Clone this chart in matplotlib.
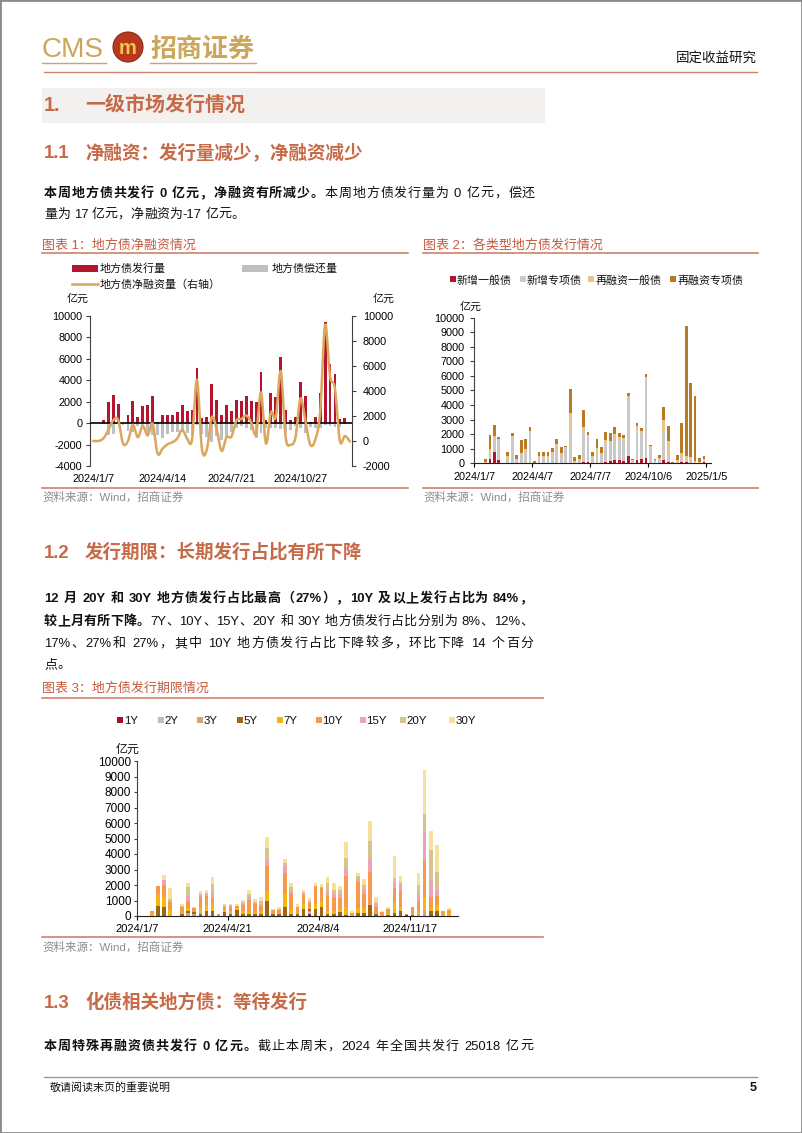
import matplotlib
matplotlib.use("Agg")
import matplotlib.pyplot as plt
import numpy as np
import pandas as pd
from matplotlib.font_manager import FontProperties
from matplotlib.lines import Line2D
from matplotlib.patches import Ellipse, Rectangle

W, H = 802, 1133
MIX = ["Liberation Sans", "Noto Sans CJK SC", "DejaVu Sans"]
plt.rcParams["font.family"] = MIX
plt.rcParams["axes.unicode_minus"] = False

INK = "#111111"
HEAD = "#C66A47"
TITLE = "#C55A3E"
RULE = "#D0826A"
GOLD = "#CBA75C"
SRC = "#8C8C8C"

# ---- data (weekly, 2024/1/7 .. 2025/1/5) ----
weeks = pd.date_range("2024-01-07", periods=53, freq="7D")
week_labels = [f"{d.year}/{d.month}/{d.day}" for d in weeks]

# 图表2 各类型地方债发行（亿元）
new_general = [0, 0, 0, 300, 800, 250, 0, 0, 50, 0,
               0, 0, 50, 0, 0, 0, 0, 50, 0, 0,
               50, 50, 0, 0, 100, 100, 0, 50, 50, 100,
               150, 200, 200, 150, 500, 50, 250, 300, 350, 50,
               0, 50, 200, 100, 0, 50, 100, 100, 50, 0,
               0, 100, 0]
new_special = [0, 0, 50, 300, 800, 1400, 0, 300, 1700, 200,
               600, 800, 2000, 0, 300, 400, 400, 650, 1000, 600,
               1000, 2300, 50, 150, 2200, 1800, 300, 500, 500, 1200,
               1300, 1600, 1500, 1500, 3900, 100, 2000, 1800, 5500, 1100,
               200, 150, 2000, 500, 50, 100, 300, 200, 100, 50,
               50, 100, 0]
refi_general = [0, 0, 50, 400, 300, 50, 0, 200, 100, 100,
                100, 200, 150, 50, 200, 100, 100, 100, 300, 100,
                50, 1100, 100, 150, 200, 50, 200, 500, 150, 300,
                100, 200, 100, 100, 200, 50, 300, 100, 100, 50,
                50, 150, 800, 900, 0, 100, 300, 200, 250, 100,
                50, 100, 0]
refi_special = [0, 0, 200, 950, 750, 100, 0, 280, 250, 300,
                900, 650, 300, 100, 280, 280, 250, 250, 400, 400,
                100, 1650, 300, 250, 1150, 200, 300, 650, 450, 550,
                500, 500, 300, 200, 200, 100, 250, 200, 200, 50,
                50, 200, 850, 1050, 50, 300, 2100, 8950, 5100, 4450,
                250, 200, 0]

# 图表1 偿还量（亿元）
redemption = [0, 0, 100, 1100, 1000, 100, 200, 780, 800, 300,
              400, 1200, 1100, 1150, 1400, 1050, 850, 850, 800, 900,
              1100, 200, 1050, 1250, 1750, 1200, 1600, 1400, 800, 500,
              300, 450, 600, 1400, 900, 500, 500, 500, 550, 950,
              600, 250, 450, 950, 400, 450, 500, 150, 300, 400,
              350, 100, 17]

# 图表3 发行期限（亿元）
y1 = [0, 0, 0, 0, 0, 0, 0, 0, 0, 0,
      0, 0, 0, 0, 0, 0, 0, 0, 0, 0,
      0, 0, 0, 0, 0, 0, 0, 0, 150, 0,
      0, 0, 0, 0, 0, 0, 0, 0, 0, 0,
      0, 0, 0, 0, 50, 0, 0, 0, 0, 0,
      0, 0, 0]
y2 = [0, 0, 0, 0, 0, 0, 0, 0, 0, 0,
      0, 0, 0, 0, 0, 0, 0, 0, 0, 0,
      0, 0, 0, 0, 0, 0, 0, 0, 100, 0,
      0, 0, 0, 0, 0, 0, 0, 0, 0, 0,
      0, 0, 0, 0, 0, 0, 0, 0, 0, 0,
      0, 0, 0]
y3 = [0, 0, 0, 0, 0, 0, 0, 0, 200, 150,
      0, 0, 0, 0, 0, 0, 0, 0, 0, 0,
      0, 0, 0, 0, 0, 0, 0, 0, 100, 0,
      0, 0, 0, 0, 0, 0, 0, 0, 0, 0,
      0, 0, 0, 0, 0, 0, 100, 400, 0, 0,
      0, 0, 0]
y5 = [0, 0, 0, 650, 600, 0, 0, 100, 100, 100,
      100, 350, 350, 0, 250, 100, 400, 100, 150, 100,
      100, 1000, 100, 100, 600, 100, 100, 450, 100, 450,
      600, 100, 100, 250, 50, 0, 200, 200, 700, 100,
      0, 50, 200, 300, 0, 50, 0, 0, 350, 300,
      0, 0, 0]
y7 = [0, 0, 200, 700, 600, 400, 0, 100, 200, 0,
      400, 350, 400, 0, 150, 200, 100, 200, 200, 100,
      250, 600, 100, 0, 800, 300, 100, 300, 0, 300,
      300, 200, 200, 200, 500, 0, 300, 300, 0, 0,
      0, 100, 700, 300, 0, 100, 200, 800, 250, 400,
      100, 100, 0]
y10 = [0, 0, 100, 600, 800, 500, 0, 350, 500, 250,
       700, 600, 400, 100, 200, 300, 150, 400, 700, 600,
       300, 1600, 200, 300, 1400, 1000, 400, 600, 400, 1200,
       900, 1000, 900, 700, 2050, 200, 1700, 900, 2150, 500,
       250, 300, 900, 1000, 50, 400, 600, 2400, 650, 600,
       200, 300, 0]
y15 = [0, 0, 0, 0, 350, 100, 0, 0, 300, 0,
       200, 100, 400, 0, 0, 80, 0, 100, 200, 100,
       150, 400, 0, 0, 400, 200, 0, 100, 100, 0,
       100, 300, 200, 300, 450, 0, 200, 300, 800, 200,
       0, 0, 400, 400, 0, 0, 600, 1850, 1000, 400,
       0, 0, 0]
y20 = [0, 0, 0, 0, 0, 100, 0, 100, 600, 0,
       0, 100, 500, 0, 100, 0, 0, 100, 150, 0,
       200, 800, 0, 50, 200, 250, 0, 100, 0, 0,
       0, 500, 300, 200, 700, 0, 200, 300, 1200, 100,
       0, 0, 250, 200, 0, 0, 500, 1150, 2000, 1150,
       0, 0, 0]
y30 = [0, 0, 0, 0, 300, 700, 0, 130, 200, 100,
       200, 150, 450, 50, 80, 100, 100, 150, 300, 200,
       200, 700, 50, 100, 250, 300, 200, 150, 200, 200,
       150, 400, 400, 300, 1050, 100, 200, 400, 1300, 350,
       50, 100, 1400, 350, 0, 0, 800, 2850, 1250, 1750,
       50, 100, 0]

type_names = ["新增一般债", "新增专项债", "再融资一般债", "再融资专项债"]
type_colors = ["#B5142E", "#C9C9C9", "#E9C487", "#B97A25"]
term_names = ["1Y", "2Y", "3Y", "5Y", "7Y", "10Y", "15Y", "20Y", "30Y"]
term_colors = ["#A5122A", "#BEBEBE", "#D2A56E", "#A0650F", "#F8B50C",
               "#F7994A", "#EDA3B6", "#D7C38F", "#F6E09A"]

issuance = np.array(new_general) + np.array(new_special) + np.array(refi_general) + np.array(refi_special)
net = issuance - np.array(redemption)

# ---- helpers ----
fig = plt.figure(figsize=(W / 100, H / 100), dpi=100)
renderer = fig.canvas.get_renderer()


def fx(x):
    return x / W


def fy(y):
    return 1 - y / H


def add_ax(l, t, r, b):
    return fig.add_axes([l / W, 1 - b / H, (r - l) / W, (b - t) / H])


def txt(x, y, s, px, color=INK, weight="normal", ha="left", va="baseline"):
    fig.text(fx(x), fy(y), s, fontsize=px * 0.72, color=color, weight=weight, ha=ha, va=va)


def hline(x0, x1, y, color, lw=1.0):
    fig.add_artist(Line2D([fx(x0), fx(x1)], [fy(y), fy(y)], color=color, lw=lw))


def text_w(s, px, bold):
    fp = FontProperties(family=MIX, size=px * 0.72, weight="bold" if bold else "normal")
    return renderer.get_text_width_height_descent(s, fp, ismath=False)[0]


def rich_line(x0, y, parts, px, x1=None, color=INK):
    tokens = []
    for s, bold in parts:
        buf = ""
        for ch in s:
            if ord(ch) < 128 and ch != " ":
                buf += ch
                continue
            if buf:
                tokens.append((buf, bold))
                buf = ""
            tokens.append((ch, bold))
        if buf:
            tokens.append((buf, bold))
    widths = [px * 0.28 if t == " " else text_w(t, px, b) for t, b in tokens]
    extra = 0.0
    if x1 is not None and len(tokens) > 1:
        extra = (x1 - x0 - sum(widths)) / (len(tokens) - 1)
    x = x0
    for (t, b), w in zip(tokens, widths):
        if t != " ":
            txt(x, y, t, px, color=color, weight="bold" if b else "normal")
        x += w + extra


def smooth(xv, yv, n=10):
    pts = np.column_stack([xv, yv]).astype(float)
    pts = np.vstack([pts[0], pts, pts[-1]])
    t = np.linspace(0, 1, n, endpoint=False)[:, None]
    out = []
    for i in range(1, len(pts) - 2):
        p0, p1, p2, p3 = pts[i - 1], pts[i], pts[i + 1], pts[i + 2]
        out.append(0.5 * (2 * p1 + (p2 - p0) * t + (2 * p0 - 5 * p1 + 4 * p2 - p3) * t ** 2
                          + (3 * p1 - p0 - 3 * p2 + p3) * t ** 3))
    out.append(pts[-2][None, :])
    c = np.vstack(out)
    return c[:, 0], c[:, 1]


def style_axis(ax, left=True, right=False, bottom=False):
    for side in ["top", "left", "right", "bottom"]:
        ax.spines[side].set_visible(False)
    if left:
        ax.spines["left"].set_visible(True)
        ax.spines["left"].set_color("#404040")
    if right:
        ax.spines["right"].set_visible(True)
        ax.spines["right"].set_color("#404040")
    if bottom:
        ax.spines["bottom"].set_visible(True)
        ax.spines["bottom"].set_color("#202020")
    ax.patch.set_alpha(0)


# ---- page frame & header ----
fig.add_artist(Rectangle((0, 0), 1, 1, transform=fig.transFigure, fill=False, edgecolor="#8a8a8a", lw=2))
txt(42, 57, "CMS", 28, color=GOLD)
fig.add_artist(Ellipse((fx(128), fy(47)), 30 / W, 30 / H, facecolor="#B8391C", edgecolor="#8E2A14", lw=0.8))
txt(128, 48, "m", 20, color="#F2C550", weight="bold", ha="center", va="center")
txt(150, 57, "招商证券", 26, color=GOLD, weight="bold")
hline(42, 106, 63, GOLD, 1.0)
hline(150, 256, 63, GOLD, 1.0)
txt(757, 62, "固定收益研究", 13.5, ha="right")
hline(44, 757, 72, RULE, 1.0)

# ---- section 1 ----
fig.add_artist(Rectangle((fx(42), fy(123)), 503 / W, 35 / H, transform=fig.transFigure,
                         facecolor="#F3F1F0", edgecolor="none"))
txt(44, 111, "1.", 20, color=HEAD, weight="bold")
txt(85, 111, "一级市场发行情况", 20, color=HEAD, weight="bold")
txt(44, 158, "1.1", 18.5, color=HEAD, weight="bold")
txt(85, 158, "净融资：发行量减少，净融资减少", 18.5, color=HEAD, weight="bold")

rich_line(44, 197, [("本周地方债共发行 0 亿元，净融资有所减少。", True),
                    ("本周地方债发行量为 0 亿元，偿还", False)], 13, x1=535)
rich_line(44, 218, [("量为 17 亿元，净融资为-17 亿元。", False)], 13)

# ---- chart titles row 1 ----
txt(42, 249, "图表 1：地方债净融资情况", 13, color=TITLE)
hline(42, 408, 253, RULE, 1.2)
txt(423, 249, "图表 2：各类型地方债发行情况", 13, color=TITLE)
hline(423, 758, 253, RULE, 1.2)

# ---- chart 1 ----
x = np.arange(53)
ax1 = add_ax(90, 316, 351.7, 466)
ax1.bar(x, issuance, width=0.58, color="#B5142E", zorder=2)
ax1.bar(x, -np.array(redemption), width=0.58, color="#BFBFBF", zorder=2)
ax1.axhline(0, color="black", lw=1.2, zorder=3)
ax1.set_xlim(-0.7, 52.4)
ax1.set_ylim(-4000, 10000)
ax1.set_yticks(range(-4000, 10001, 2000))
ax1.set_xticks([0, 14, 28, 42])
ax1.set_xticklabels([week_labels[i] for i in [0, 14, 28, 42]])
style_axis(ax1, left=True)
ax1.tick_params(axis="x", length=0, pad=6, labelsize=7.8)
ax1.tick_params(axis="y", length=3, width=0.8, pad=2.5, labelsize=7.8, color="#404040")
ax1r = ax1.twinx()
sx, sy = smooth(x, net)
ax1r.plot(sx, sy, color="#DBA75C", lw=1.8, zorder=4)
ax1r.set_ylim(-2000, 10000)
ax1r.set_yticks(range(-2000, 10001, 2000))
style_axis(ax1r, left=False, right=True)
ax1r.tick_params(axis="y", length=3, width=0.8, pad=5, labelsize=7.8, color="#404040")
txt(67, 302, "亿元", 11)
txt(373, 302, "亿元", 11)
fig.add_artist(Rectangle((fx(72), fy(272)), 26 / W, 7 / H, transform=fig.transFigure,
                         facecolor="#B5142E", edgecolor="none"))
txt(100, 272, "地方债发行量", 11)
fig.add_artist(Rectangle((fx(242), fy(272)), 26 / W, 7 / H, transform=fig.transFigure,
                         facecolor="#BFBFBF", edgecolor="none"))
txt(272, 272, "地方债偿还量", 11)
hline(72, 98, 284, "#DBA75C", 1.8)
txt(100, 288, "地方债净融资量（右轴）", 11)
hline(42, 408, 488, RULE, 1.2)
txt(42, 501, "资料来源：Wind，招商证券", 11.5, color=SRC)

# ---- chart 2 ----
xc = np.arange(53) + 0.5
ax2 = add_ax(474.3, 317.7, 710.7, 463.3)
bottom = np.zeros(53)
for vals, col in zip([new_general, new_special, refi_general, refi_special], type_colors):
    ax2.bar(xc, vals, bottom=bottom, width=0.62, color=col)
    bottom = bottom + np.array(vals)
ax2.set_xlim(0, 53)
ax2.set_ylim(0, 10000)
ax2.set_yticks(range(0, 10001, 1000))
ax2.set_xticks([0, 13, 26, 39, 52])
ax2.set_xticklabels([week_labels[i] for i in [0, 13, 26, 39, 52]])
style_axis(ax2, left=True, bottom=True)
ax2.tick_params(axis="x", length=3, width=0.8, pad=3, labelsize=7.8)
ax2.tick_params(axis="y", length=3, width=0.8, pad=4, labelsize=7.8, color="#404040")
for name, col, sqx in zip(type_names, type_colors, [449.5, 519.5, 588, 670]):
    fig.add_artist(Rectangle((fx(sqx), fy(282)), 6 / W, 6 / H, transform=fig.transFigure,
                             facecolor=col, edgecolor="none"))
    txt(sqx + 7, 283.5, name, 11)
txt(460, 310, "亿元", 11)
hline(423, 758, 488, RULE, 1.2)
txt(423, 501, "资料来源：Wind，招商证券", 11.5, color=SRC)

# ---- section 1.2 ----
txt(44, 558, "1.2", 18.5, color=HEAD, weight="bold")
txt(85, 558, "发行期限：长期发行占比有所下降", 18.5, color=HEAD, weight="bold")
rich_line(44, 602, [("12 月 20Y 和 30Y 地方债发行占比最高（27%），10Y 及以上发行占比为 84%，", True)], 13, x1=533)
rich_line(44, 625, [("较上月有所下降。", True),
                    ("7Y、10Y、15Y、20Y 和 30Y 地方债发行占比分别为 8%、12%、", False)], 13, x1=533)
rich_line(44, 647, [("17%、27%和 27%，其中 10Y 地方债发行占比下降较多，环比下降 14 个百分", False)], 13, x1=533)
rich_line(44, 668, [("点。", False)], 13)

txt(42, 692, "图表 3：地方债发行期限情况", 13, color=TITLE)
hline(42, 543, 698, RULE, 1.2)

# ---- chart 3 ----
ax3 = add_ax(136.7, 761, 458, 916)
bottom = np.zeros(53)
for vals, col in zip([y1, y2, y3, y5, y7, y10, y15, y20, y30], term_colors):
    ax3.bar(xc, vals, bottom=bottom, width=0.6, color=col)
    bottom = bottom + np.array(vals)
ax3.set_xlim(0, 53)
ax3.set_ylim(0, 10000)
ax3.set_yticks(range(0, 10001, 1000))
ax3.set_xticks([0, 15, 30, 45])
ax3.set_xticklabels([week_labels[i] for i in [0, 15, 30, 45]])
style_axis(ax3, left=True, bottom=True)
ax3.tick_params(axis="x", length=3, width=0.8, pad=3, labelsize=8)
ax3.tick_params(axis="y", length=2.5, width=0.8, pad=1.5, labelsize=8.5, color="#404040")
for name, col, sqx in zip(term_names, term_colors,
                          [117.3, 157.7, 196.7, 236.7, 276.7, 316, 360, 400, 449.3]):
    fig.add_artist(Rectangle((fx(sqx), fy(723)), 6 / W, 6 / H, transform=fig.transFigure,
                             facecolor=col, edgecolor="none"))
    txt(sqx + 6.5, 724.5, name, 11.5)
txt(116, 753, "亿元", 12)
hline(42, 543, 937, RULE, 1.2)
txt(42, 951, "资料来源：Wind，招商证券", 11.5, color=SRC)

# ---- section 1.3 ----
txt(44, 1008, "1.3", 18.5, color=HEAD, weight="bold")
txt(85, 1008, "化债相关地方债：等待发行", 18.5, color=HEAD, weight="bold")
rich_line(44, 1050, [("本周特殊再融资债共发行 0 亿元。", True),
                     ("截止本周末，2024 年全国共发行 25018 亿元", False)], 13, x1=533)

# ---- footer ----
hline(44, 757, 1077, "#9a9a9a", 1.0)
txt(50, 1091, "敬请阅读末页的重要说明", 11)
txt(757, 1091, "5", 12.5, weight="bold", ha="right")

fig.savefig("out.png", dpi=100)
